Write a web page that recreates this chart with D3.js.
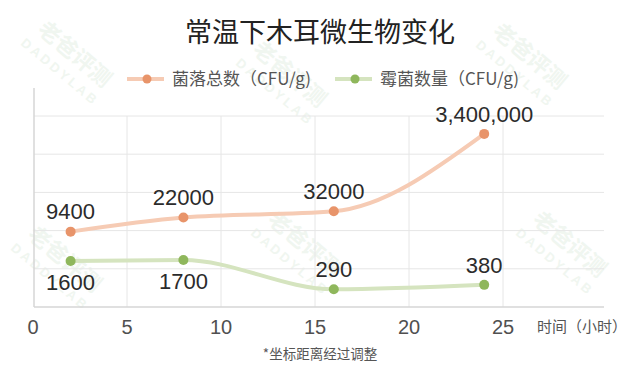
<!DOCTYPE html>
<html><head><meta charset="utf-8">
<script src="https://cdn.jsdelivr.net/npm/d3@7/dist/d3.min.js"></script>
<style>
html,body{margin:0;padding:0;background:#fff;}
svg{display:block;}
</style></head>
<body><svg id="c" width="640" height="367"></svg>
<script>
// ---- data ----
const title = "常温下木耳微生物变化";
const hours = [2, 8, 16, 24];
const totalColonies = [9400, 22000, 32000, 3400000];
const totalLabels = ["9400", "22000", "32000", "3,400,000"];
const moldCount = [1600, 1700, 290, 380];
const moldLabels = ["1600", "1700", "290", "380"];
const moldLabelPos = ["below", "below", "above", "above"];
const seriesNames = ["菌落总数（CFU/g)", "霉菌数量（CFU/g)"];
const xTicks = [0, 5, 10, 15, 20, 25];
const yGrid = [1e3, 1e4, 1e5, 1e6, 1e7];
const xTitle = "时间（小时）";
const footnote = "*坐标距离经过调整";

// ---- layout ----
const svg = d3.select("#c");
const FONT = "'Liberation Sans','Noto Sans CJK SC',sans-serif";
const CJK = "'Noto Sans CJK SC','Liberation Sans',sans-serif";
const plotL = 34, plotR = 604, plotB = 307, plotT = 88;
const x = d3.scaleLinear().domain([0, 25]).range([plotL - 1, 503]);
const y = d3.scaleLog().domain([100, 1e7]).range([plotB, 116]);

const orange = {line: "#f6cbb4", dot: "#e8946a"};
const green = {line: "#d5e4bf", dot: "#8fb75c"};

// watermark (faint)
const wm = svg.append("g").attr("fill", "#f0f6f0");
[[70,60],[285,80],[525,62],[60,265],[300,250],[565,250]].forEach(([cx,cy])=>{
  const g = wm.append("g").attr("transform", `translate(${cx},${cy}) rotate(40)`);
  g.append("text").attr("text-anchor","middle").attr("font-family",CJK)
    .attr("font-size",22).attr("font-weight","bold").text("老爸评测");
  g.append("text").attr("text-anchor","middle").attr("y",20).attr("font-family",FONT)
    .attr("font-size",13).attr("font-weight","bold").attr("letter-spacing",3).text("DADDYLAB");
});

// grid
const grid = svg.append("g");
grid.selectAll("line.h").data(yGrid).join("line")
  .attr("x1", plotL).attr("x2", plotR)
  .attr("y1", d => y(d)).attr("y2", d => y(d))
  .attr("stroke", "#e6e6e6").attr("stroke-width", 1);
grid.selectAll("line.v").data(xTicks.slice(1)).join("line")
  .attr("x1", d => x(d)).attr("x2", d => x(d))
  .attr("y1", y(1e7)).attr("y2", plotB)
  .attr("stroke", "#e6e6e6").attr("stroke-width", 1);
// axes lines
svg.append("line").attr("x1", plotL).attr("x2", plotR).attr("y1", plotB).attr("y2", plotB)
  .attr("stroke", "#d6d6d6").attr("stroke-width", 1.5);
svg.append("line").attr("x1", plotL).attr("x2", plotL).attr("y1", plotT).attr("y2", plotB)
  .attr("stroke", "#d6d6d6").attr("stroke-width", 1.5);

// x tick labels
svg.append("g").selectAll("text").data(xTicks).join("text")
  .attr("x", d => x(d)).attr("y", 334)
  .attr("text-anchor", "middle").attr("font-family", FONT).attr("font-size", 20)
  .attr("fill", "#505050").text(d => d);
svg.append("text").attr("x", 537).attr("y", 332).attr("font-family", CJK)
  .attr("font-size", 15).attr("fill", "#555").text(xTitle);

// lines
const lineGen = d3.line().x(d => x(d[0])).y(d => y(d[1])).curve(d3.curveMonotoneX);
const tData = hours.map((h, i) => [h, totalColonies[i]]);
const mData = hours.map((h, i) => [h, moldCount[i]]);
svg.append("path").attr("d", lineGen(tData)).attr("fill", "none")
  .attr("stroke", orange.line).attr("stroke-width", 4).attr("stroke-linecap", "round");
svg.append("path").attr("d", lineGen(mData)).attr("fill", "none")
  .attr("stroke", green.line).attr("stroke-width", 4).attr("stroke-linecap", "round");
svg.append("g").selectAll("circle").data(tData).join("circle")
  .attr("cx", d => x(d[0])).attr("cy", d => y(d[1])).attr("r", 5).attr("fill", orange.dot);
svg.append("g").selectAll("circle").data(mData).join("circle")
  .attr("cx", d => x(d[0])).attr("cy", d => y(d[1])).attr("r", 5).attr("fill", green.dot);

// value labels
svg.append("g").selectAll("text").data(tData).join("text")
  .attr("x", d => x(d[0])).attr("y", d => y(d[1]) - 20 + 7.8)
  .attr("text-anchor", "middle").attr("font-family", FONT).attr("font-size", 22)
  .attr("fill", "#2b2b2b").text((d, i) => totalLabels[i]);
svg.append("g").selectAll("text").data(mData).join("text")
  .attr("x", d => x(d[0]))
  .attr("y", (d, i) => y(d[1]) + (moldLabelPos[i] === "below" ? 21 : -20) + 7.8)
  .attr("text-anchor", "middle").attr("font-family", FONT).attr("font-size", 22)
  .attr("fill", "#2b2b2b").text((d, i) => moldLabels[i]);

// title
svg.append("text").attr("x", 320).attr("y", 42).attr("text-anchor", "middle")
  .attr("font-family", CJK).attr("font-size", 27).attr("fill", "#222").text(title);

// legend
const legend = [
  {name: seriesNames[0], c: orange, x0: 127, tx: 172},
  {name: seriesNames[1], c: green, x0: 335, tx: 380}
];
const lg = svg.append("g");
legend.forEach(l => {
  lg.append("line").attr("x1", l.x0).attr("x2", l.x0 + 37).attr("y1", 79).attr("y2", 79)
    .attr("stroke", l.c.line).attr("stroke-width", 4);
  lg.append("circle").attr("cx", l.x0 + 20).attr("cy", 79).attr("r", 4.5).attr("fill", l.c.dot);
  lg.append("text").attr("x", l.tx).attr("y", 85).attr("font-family", CJK)
    .attr("font-size", 17).attr("fill", "#555").text(l.name);
});

// footnote
svg.append("text").attr("x", 320).attr("y", 359).attr("text-anchor", "middle")
  .attr("font-family", CJK).attr("font-size", 13.5).attr("fill", "#555").text(footnote);
</script></body></html>
